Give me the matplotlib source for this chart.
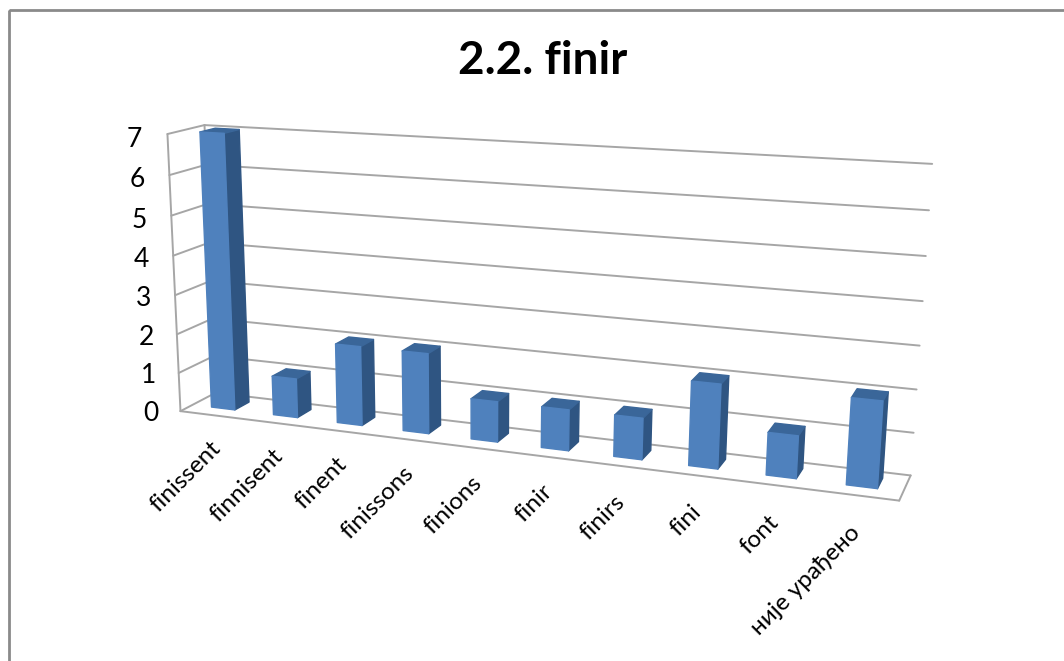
import numpy as np
import matplotlib
matplotlib.use("Agg")
import matplotlib.pyplot as plt
from matplotlib.patches import Polygon, Rectangle

plt.rcParams['font.family'] = ['Lato', 'DejaVu Sans']

# Data
title = "2.2. finir"
categories = ["finissent", "finnisent", "finent", "finissons", "finions",
              "finir", "finirs", "fini", "font", "није урађено"]
values = [7, 1, 2, 2, 1, 1, 1, 2, 1, 2]
z_ticks = [0, 1, 2, 3, 4, 5, 6, 7]

W, H = 1064, 661
fig = plt.figure(figsize=(W / 100, H / 100), dpi=100)
ax = fig.add_axes([0, 0, 1, 1])
ax.set_xlim(0, W)
ax.set_ylim(H, 0)
ax.axis("off")

# Perspective camera: world (slot, depth, value) -> canvas, solved from box corners
box_world = [(0, 0, 0), (0, 1, 0), (10, 0, 0), (10, 1, 0), (0, 0, 7), (0, 1, 7), (10, 1, 7)]
box_canvas = [(183, 410), (213, 394), (899, 502), (911, 474), (165, 134), (207, 125), (932, 164)]
rows, rhs = [], []
for (a, b, c), (u, v) in zip(box_world, box_canvas):
    rows.append([a, b, c, 1, 0, 0, 0, 0, -u * a, -u * b, -u * c])
    rows.append([0, 0, 0, 0, a, b, c, 1, -v * a, -v * b, -v * c])
    rhs += [u, v]
cam = np.append(np.linalg.lstsq(np.array(rows, float), np.array(rhs, float), rcond=None)[0], 1).reshape(3, 4)


def project(a, b, c):
    p = cam @ np.array([a, b, c, 1.0])
    return p[0] / p[2], p[1] / p[2]


def face(points, color):
    ax.add_patch(Polygon([project(*q) for q in points], closed=True, facecolor=color,
                         edgecolor=color, linewidth=1.0, joinstyle="round", zorder=3))


GRID = "#a6a6a6"


def edge(p, q, lw=1.4):
    a, b = project(*p), project(*q)
    ax.plot([a[0], b[0]], [a[1], b[1]], color=GRID, lw=lw, solid_capstyle="round", zorder=2)


# Chart frame
ax.add_patch(Rectangle((8.5, 9.5), W + 20, H + 20, fill=False, edgecolor="#8a8a8a", lw=2, zorder=1))

# Walls, floor and gridlines
for z in z_ticks:
    edge((0, 0, z), (0, 1, z))
    edge((0, 1, z), (10, 1, z))
edge((0, 0, 0), (0, 0, 7))
edge((0, 1, 0), (0, 1, 7))
edge((0, 0, 0), (10, 0, 0))
edge((10, 0, 0), (10, 1, 0))

# Bars: right side, cap, then front face
FRONT, SIDE, TOP = "#4f81bd", "#2f5582", "#3a6699"
bar_w, d0, d1 = 0.38, 0.34, 0.76
for i, val in enumerate(values):
    x0, x1 = i + 0.5 - bar_w / 2, i + 0.5 + bar_w / 2
    face([(x1, d0, 0), (x1, d1, 0), (x1, d1, val), (x1, d0, val)], SIDE)
    face([(x0, d0, val), (x1, d0, val), (x1, d1, val), (x0, d1, val)], TOP)
    face([(x0, d0, 0), (x1, d0, 0), (x1, d0, val), (x0, d0, val)], FRONT)

# Value axis labels, drifting away from the slanted edge toward the top
for z in z_ticks:
    u, v = project(0, 0, z)
    ax.text(u - 22 - 0.5 * z, v + 2.5 + 0.4 * z, str(z), ha="right", va="center",
            fontsize=19, color="black")

# Category labels, set a little further from the floor edge toward the right
for i, name in enumerate(categories):
    u, v = project(i + 0.5, 0, 0)
    ax.text(u - 1 - 0.8 * i, v + 22 + 0.5 * i, name, rotation=45, rotation_mode="anchor",
            ha="right", va="top", fontsize=17.5, color="black")

ax.text(543, 61, title, ha="center", va="center", fontsize=33, fontweight="bold", color="black")

fig.savefig("out.png", dpi=100)
